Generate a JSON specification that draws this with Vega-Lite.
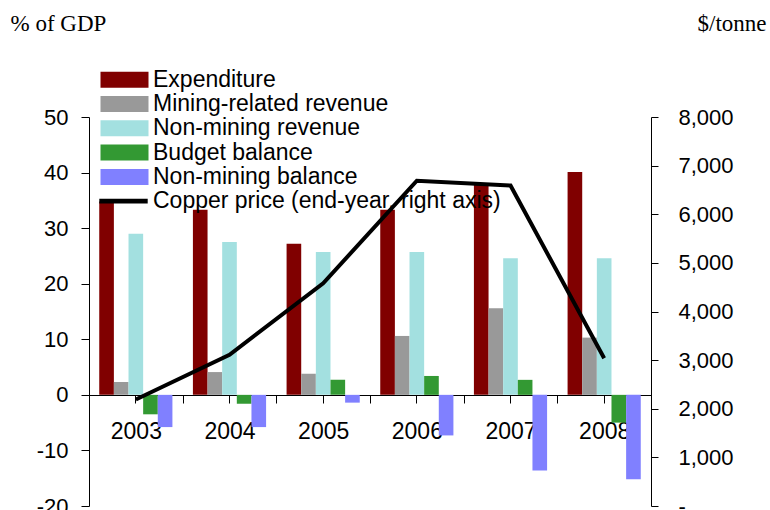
{
  "$schema": "https://vega.github.io/schema/vega-lite/v6.json",
  "width": 562,
  "height": 389,
  "autosize": {"type": "none"},
  "padding": {"left": 89, "top": 117, "right": 119, "bottom": 4},
  "background": "white",
  "config": {
    "view": {"stroke": null},
    "font": "Liberation Sans",
    "axis": {
      "labelFont": "Liberation Sans",
      "labelFontSize": 22,
      "labelColor": "black",
      "domainColor": "black",
      "tickColor": "black",
      "grid": false,
      "titleFont": "Liberation Serif",
      "titleFontSize": 23,
      "titleFontWeight": "normal",
      "titleColor": "black"
    }
  },
  "data": {
    "values": [
      {"year": "2003", "series": "Expenditure", "value": 34.8},
      {"year": "2004", "series": "Expenditure", "value": 33.3},
      {"year": "2005", "series": "Expenditure", "value": 27.2},
      {"year": "2006", "series": "Expenditure", "value": 33.3},
      {"year": "2007", "series": "Expenditure", "value": 38.0},
      {"year": "2008", "series": "Expenditure", "value": 40.1},
      {"year": "2003", "series": "Mining-related revenue", "value": 2.3},
      {"year": "2004", "series": "Mining-related revenue", "value": 4.1},
      {"year": "2005", "series": "Mining-related revenue", "value": 3.8},
      {"year": "2006", "series": "Mining-related revenue", "value": 10.6},
      {"year": "2007", "series": "Mining-related revenue", "value": 15.6},
      {"year": "2008", "series": "Mining-related revenue", "value": 10.3},
      {"year": "2003", "series": "Non-mining revenue", "value": 29.0},
      {"year": "2004", "series": "Non-mining revenue", "value": 27.5},
      {"year": "2005", "series": "Non-mining revenue", "value": 25.7},
      {"year": "2006", "series": "Non-mining revenue", "value": 25.7},
      {"year": "2007", "series": "Non-mining revenue", "value": 24.6},
      {"year": "2008", "series": "Non-mining revenue", "value": 24.6},
      {"year": "2003", "series": "Budget balance", "value": -3.5},
      {"year": "2004", "series": "Budget balance", "value": -1.6},
      {"year": "2005", "series": "Budget balance", "value": 2.7},
      {"year": "2006", "series": "Budget balance", "value": 3.4},
      {"year": "2007", "series": "Budget balance", "value": 2.7},
      {"year": "2008", "series": "Budget balance", "value": -5.0},
      {"year": "2003", "series": "Non-mining balance", "value": -5.8},
      {"year": "2004", "series": "Non-mining balance", "value": -5.8},
      {"year": "2005", "series": "Non-mining balance", "value": -1.4},
      {"year": "2006", "series": "Non-mining balance", "value": -7.3},
      {"year": "2007", "series": "Non-mining balance", "value": -13.6},
      {"year": "2008", "series": "Non-mining balance", "value": -15.2},
      {"year": "2003", "series": "Copper price (end-year, right axis)", "value": 2190},
      {"year": "2004", "series": "Copper price (end-year, right axis)", "value": 3110},
      {"year": "2005", "series": "Copper price (end-year, right axis)", "value": 4580},
      {"year": "2006", "series": "Copper price (end-year, right axis)", "value": 6690},
      {"year": "2007", "series": "Copper price (end-year, right axis)", "value": 6590},
      {"year": "2008", "series": "Copper price (end-year, right axis)", "value": 3040}
    ]
  },
  "layer": [
    {
      "transform": [{"filter": "datum.series != 'Copper price (end-year, right axis)'"}],
      "mark": {"type": "bar"},
      "encoding": {
        "x": {
          "field": "year",
          "type": "nominal",
          "scale": {"paddingInner": 0, "paddingOuter": 0},
          "axis": {
            "orient": "bottom",
            "offset": -111,
            "title": null,
            "tickBand": "extent",
            "tickSize": 8,
            "labelPadding": 17,
            "labelAngle": 0,
            "labelFontSize": 23
          }
        },
        "xOffset": {
          "field": "series",
          "type": "nominal",
          "sort": ["Expenditure", "Mining-related revenue", "Non-mining revenue", "Budget balance", "Non-mining balance"],
          "scale": {"paddingInner": 0, "paddingOuter": 0.7}
        },
        "y": {
          "field": "value",
          "type": "quantitative",
          "scale": {"domain": [-20, 50], "nice": false},
          "axis": {
            "orient": "left",
            "values": [-20, -10, 0, 10, 20, 30, 40, 50],
            "labelExpr": "'' + datum.value",
            "tickSize": 8,
            "labelPadding": 13,
            "title": "% of GDP",
            "titleAngle": 0,
            "titleAlign": "left",
            "titleBaseline": "alphabetic",
            "titleX": -79,
            "titleY": -87
          }
        },
        "color": {
          "field": "series",
          "type": "nominal",
          "scale": {
            "domain": ["Expenditure", "Mining-related revenue", "Non-mining revenue", "Budget balance", "Non-mining balance", "Copper price (end-year, right axis)"],
            "range": ["#800000", "#999999", "#A3E0E0", "#339933", "#8080FF", "#000000"]
          },
          "legend": {
            "orient": "none",
            "legendX": 8,
            "legendY": -48.8,
            "title": null,
            "padding": 0,
            "labelFont": "Liberation Sans",
            "labelFontSize": 23,
            "labelColor": "black",
            "labelLimit": 0,
            "symbolSize": 256,
            "symbolOffset": 16,
            "labelOffset": 17,
            "rowPadding": 0.3,
            "symbolStrokeWidth": 0,
            "encode": {
              "symbols": {
                "update": {
                  "shape": {"signal": "datum.label == 'Copper price (end-year, right axis)' ? 'M-3.15,-0.3H2.9V0.3H-3.15Z' : 'M-3,-1H3V1H-3Z'"},
                  "fill": {"signal": "scale('color', datum.value)"},
                  "stroke": {"value": "transparent"}
                }
              }
            }
          }
        }
      }
    },
    {
      "transform": [{"filter": "datum.series == 'Copper price (end-year, right axis)'"}],
      "mark": {"type": "line", "strokeWidth": 4},
      "encoding": {
        "x": {
          "field": "year",
          "type": "nominal",
          "axis": {
            "orient": "bottom",
            "offset": -111,
            "title": null,
            "labels": false,
            "domain": false,
            "tickSize": 8
          }
        },
        "y": {
          "field": "value",
          "type": "quantitative",
          "scale": {"domain": [0, 8000], "nice": false},
          "axis": {
            "orient": "right",
            "values": [0, 1000, 2000, 3000, 4000, 5000, 6000, 7000, 8000],
            "tickSize": 7,
            "labelPadding": 20,
            "labelExpr": "datum.value == 0 ? '-' : format(datum.value, ',')",
            "title": "$/tonne",
            "titleAngle": 0,
            "titleAlign": "left",
            "titleBaseline": "alphabetic",
            "titleX": 46,
            "titleY": -87
          }
        },
        "color": {"field": "series", "type": "nominal"}
      }
    }
  ],
  "resolve": {"scale": {"y": "independent"}, "axis": {"x": "independent"}}
}
